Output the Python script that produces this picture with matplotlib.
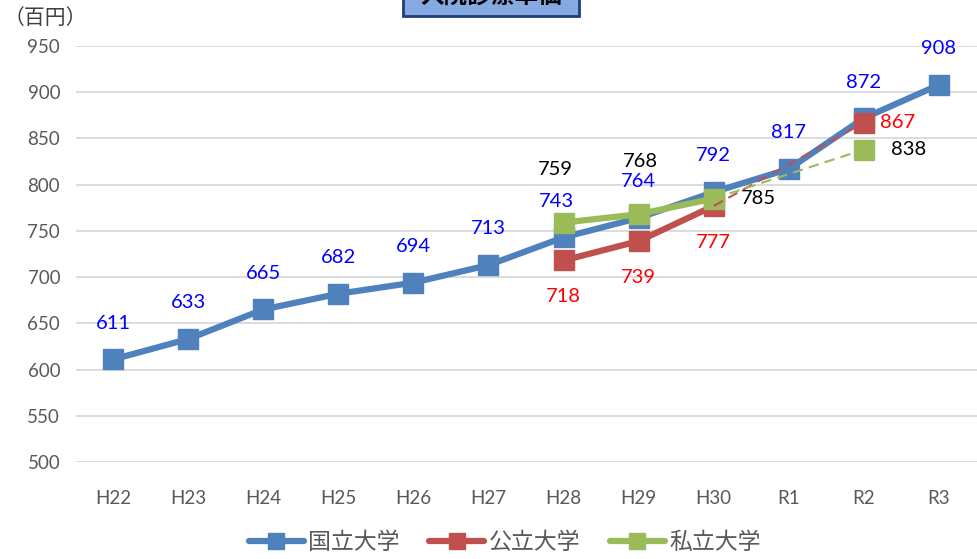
import numpy as np
import matplotlib.pyplot as plt
from matplotlib.patches import Rectangle

plt.rcParams['font.family'] = ['Lato', 'Noto Sans CJK JP', 'DejaVu Sans']

years = ['H22', 'H23', 'H24', 'H25', 'H26', 'H27', 'H28', 'H29', 'H30', 'R1', 'R2', 'R3']
national = [611, 633, 665, 682, 694, 713, 743, 764, 792, 817, 872, 908]
public = [None, None, None, None, None, None, 718, 739, 777, None, 867, None]
private = [None, None, None, None, None, None, 759, 768, 785, None, 838, None]
names = ['国立大学', '公立大学', '私立大学']

c_nat, c_pub, c_pri = '#4F81BD', '#C0504D', '#9BBB59'

x = np.arange(len(years))
pub = np.array([np.nan if v is None else v for v in public], dtype=float)
pri = np.array([np.nan if v is None else v for v in private], dtype=float)

fig = plt.figure(figsize=(9.78, 5.59), dpi=100)
ax = fig.add_axes([0.0772, 0.1735, 0.9213, 0.7442])

kw = dict(lw=4.5, marker='s', markersize=14.5, solid_capstyle='round')
ax.plot(x, national, color=c_nat, label=names[0], zorder=3, **kw)
ax.plot(x, pub, color=c_pub, label=names[1], zorder=4, **kw)
ax.plot(x, pri, color=c_pri, label=names[2], zorder=5, **kw)

# R1 has no data for public / private: bridge H30 -> R2 with a dashed line
i0, i1 = years.index('H30'), years.index('R2')
ax.plot([x[i0], x[i1]], [pub[i0], pub[i1]], color=c_pub, lw=1.5, ls=(0, (5, 3)), zorder=6)
ax.plot([x[i0], x[i1]], [pri[i0], pri[i1]], color=c_pri, lw=1.5, ls=(0, (5, 3)), zorder=6)

lab = dict(textcoords='offset points', ha='center', va='center', fontsize=14.5)
for xi, v in zip(x, national):
    dx = -5 if years[xi] == 'H28' else 0
    ax.annotate(str(v), (xi, v), xytext=(dx, 26), color='#0000FF', **lab)
for xi, v in zip(x, pub):
    if np.isnan(v):
        continue
    off = (24, 0) if years[xi] == 'R2' else (0, -26)
    ax.annotate(str(int(v)), (xi, v), xytext=off, color='#FF0000', **lab)
for xi, v in zip(x, pri):
    if np.isnan(v):
        continue
    if years[xi] in ('H30', 'R2'):
        off = (32, 0)
    else:
        off = (-6 if years[xi] == 'H28' else 1, 38)
    ax.annotate(str(int(v)), (xi, v), xytext=off, color='black', **lab)

ax.set_xlim(-0.5, len(years) - 0.5)
ax.set_ylim(500, 950)
ax.set_yticks(range(500, 951, 50))
ax.set_xticks(x)
ax.set_xticklabels(years)
ax.tick_params(length=0, labelsize=13.5, labelcolor='#595959')
ax.tick_params(axis='y', pad=11)
ax.tick_params(axis='x', pad=20)
ax.grid(axis='y', color='#D9D9D9', lw=1.3)
ax.set_axisbelow(True)
for s in ax.spines.values():
    s.set_visible(False)

fig.text(0.004, 0.968, '（百円）', fontsize=15, color='#404040', va='center')

# title box sits partly off the top edge
fig.patches.append(Rectangle((0.412, 0.972), 0.180, 0.08, transform=fig.transFigure,
                             facecolor='#86A9E2', edgecolor='#1F3D7A', lw=2))
fig.text(0.502, 1.008, '入院診療単価', fontsize=17, fontweight='bold',
         ha='center', va='center', color='black')

fig.legend(loc='lower center', bbox_to_anchor=(0.516, -0.026), ncol=3, frameon=False,
           fontsize=16.5, labelcolor='#595959', handlelength=2.4, columnspacing=1.3,
           handletextpad=0.18, markerscale=0.75)

fig.savefig('out.png', dpi=100)
